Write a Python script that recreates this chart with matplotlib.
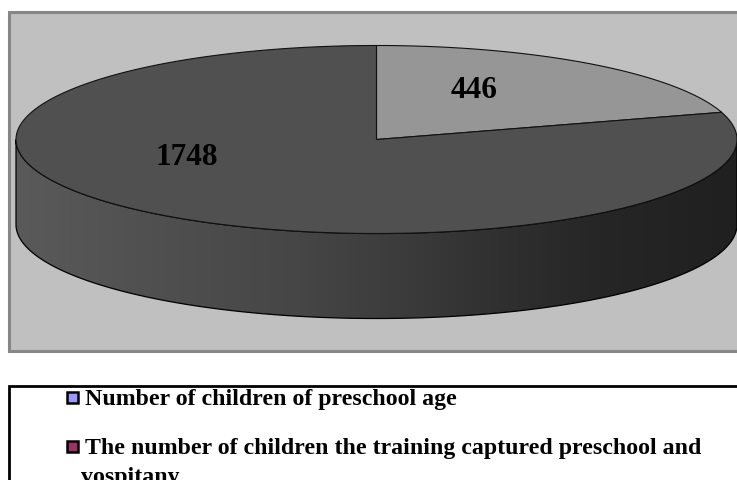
import numpy as np
import matplotlib
matplotlib.use("Agg")
import matplotlib.pyplot as plt
from matplotlib.patches import Polygon, Rectangle
from matplotlib.colors import LinearSegmentedColormap

values = [446, 1748]
value_labels = ["446", "1748"]
slice_colors = ["#969696", "#505050"]
legend_labels = ["Number of children of preschool age",
                 "The number of children the training captured preschool and"]
legend_wrap = "vospitany"
legend_colors = ["#9999FF", "#993366"]

plt.rcParams["font.family"] = "Liberation Serif"
plt.rcParams["font.weight"] = "bold"

W, H = 737, 481
fig = plt.figure(figsize=(W / 100, H / 100), dpi=100, facecolor="white")
ax = fig.add_axes([0, 0, 1, 1])
ax.set_xlim(0, W)
ax.set_ylim(H, 0)
ax.axis("off")

# chart frame (runs off the right edge)
ax.add_patch(Rectangle((9.5, 12.5), 740, 339, fc="#C0C0C0", ec="#868686", lw=2.2, zorder=1))

cx, cy, a, b, depth = 376.5, 140.5, 360.5, 94.0, 85.0


def rim(t0, t1, n=240):
    t = np.linspace(t0, t1, n)
    return np.column_stack([cx + a * np.sin(t), cy - b * np.cos(t)])


# side wall with horizontal shading
front = rim(np.pi / 2, 3 * np.pi / 2, 400)
back = front[::-1] + [0, depth]
outline = np.vstack([front, back])
ax.add_patch(Polygon(outline, closed=True, fc="none", ec="black", lw=0.9, zorder=3))
cmap = LinearSegmentedColormap.from_list(
    "side",
    [(0.0, "#5A5A5A"), (0.186, "#505050"), (0.39, "#464646"), (0.53, "#3C3C3C"),
     (0.67, "#303030"), (0.81, "#262626"), (1.0, "#202020")])
im = ax.imshow(np.linspace(0, 1, 512)[None, :], extent=(cx - a, cx + a, cy + b + depth + 2, cy - 2),
               cmap=cmap, aspect="auto", zorder=2)
im.set_clip_path(Polygon(outline, closed=True, transform=ax.transData))
ax.set_xlim(0, W)
ax.set_ylim(H, 0)

# top face slices
fractions = np.array(values, dtype=float) / sum(values)
edges = np.concatenate([[0], np.cumsum(fractions)]) * 2 * np.pi
for i, col in enumerate(slice_colors):
    pts = np.vstack([[cx, cy], rim(edges[i], edges[i + 1])])
    ax.add_patch(Polygon(pts, closed=True, fc=col, ec="#111111", lw=0.8, zorder=4))

# value labels
ax.text(474, 91, value_labels[0], fontsize=22.5, ha="center", va="center", color="black", zorder=5)
ax.text(187, 158, value_labels[1], fontsize=22.5, ha="center", va="center", color="black", zorder=5)

# legend box, cropped by the image bottom and right
ax.plot([9, 9, W + 5], [H + 5, 386.5, 386.5], color="black", lw=2, zorder=5, solid_joinstyle="miter")
for y, col, lab in zip([398, 447], legend_colors, legend_labels):
    ax.add_patch(Rectangle((67.5, y - 5.5), 11, 11, fc=col, ec="black", lw=1.8, zorder=6))
    ax.text(85, y + 7.5, lab, fontsize=17.2, ha="left", va="baseline", color="black", zorder=6)
ax.text(81, 483, legend_wrap, fontsize=17.2, ha="left", va="baseline", color="black", zorder=6)

fig.savefig("out.png", dpi=100, facecolor="white")
